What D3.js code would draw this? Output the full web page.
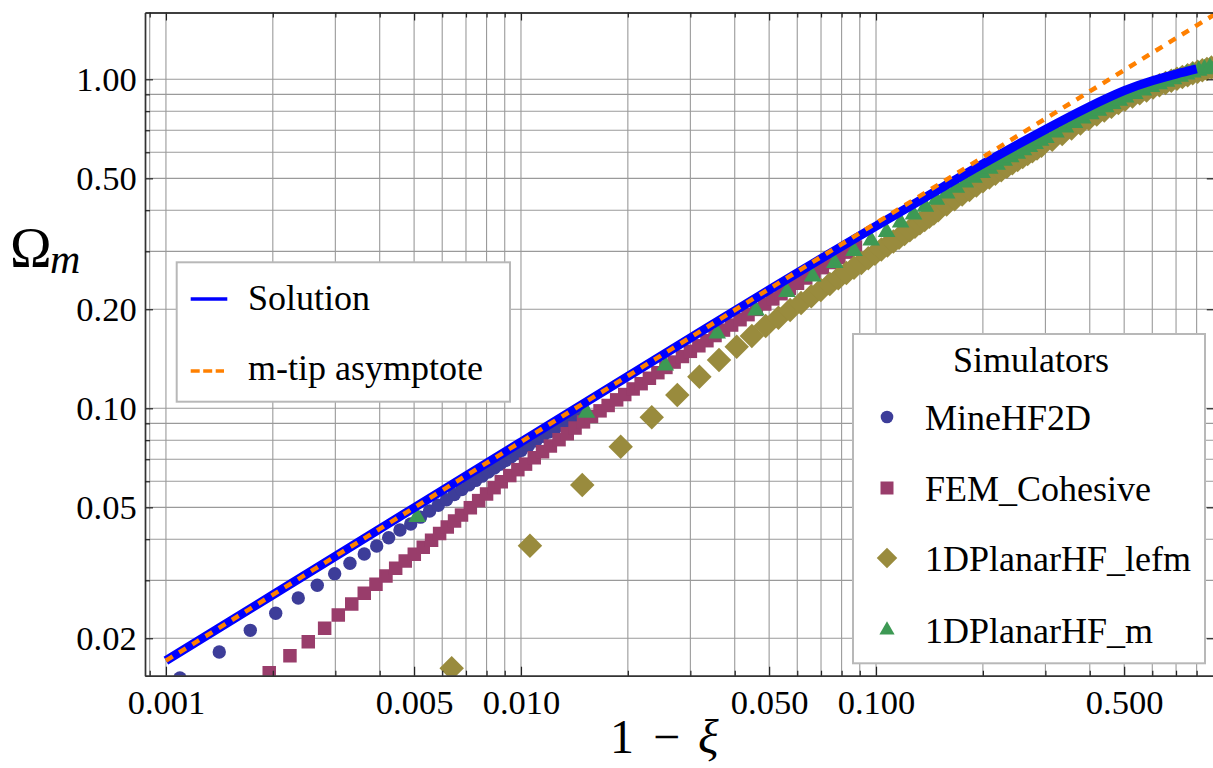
<!DOCTYPE html>
<html><head><meta charset="utf-8">
<script src="https://cdn.jsdelivr.net/npm/d3@7"></script>
<style>
html,body{margin:0;padding:0;background:#fff;}
svg text{font-family:"Liberation Serif","Times New Roman",serif;fill:#000;}
</style></head><body>
<svg id="chart" width="1213" height="768"></svg>
<script>
// ---------- data ----------
const xMajorTicks = [0.001, 0.005, 0.01, 0.05, 0.1, 0.5];
const xTickLabels = ["0.001", "0.005", "0.010", "0.050", "0.100", "0.500"];
const yMajorTicks = [0.02, 0.05, 0.1, 0.2, 0.5, 1.0];
const yTickLabels = ["0.02", "0.05", "0.10", "0.20", "0.50", "1.00"];

const solutionX = [0.001, 0.002, 0.005, 0.01, 0.02, 0.05, 0.1, 0.15, 0.2, 0.3, 0.4, 0.5, 0.6, 0.7, 0.8];
const solutionY = [0.0171, 0.02710, 0.04985, 0.0790, 0.1250, 0.2290, 0.358, 0.462, 0.553, 0.704, 0.827, 0.924, 0.990, 1.037, 1.075];

const asymptoteX = [0.001, 0.01, 0.1, 0.9];
const asymptoteY = [0.0171, 0.0791, 0.3656, 1.576];

const mineX = [0.001095, 0.001413, 0.001728, 0.002038, 0.002359, 0.002668, 0.002987, 0.003298, 0.003619, 0.003923, 0.004240, 0.004562, 0.004891, 0.00521, 0.00553, 0.00585, 0.00617, 0.00649, 0.00681, 0.00713, 0.00745, 0.00777, 0.00809, 0.00841, 0.00873, 0.00905, 0.00937, 0.00969, 0.01001, 0.0105, 0.011, 0.0115, 0.012, 0.0125, 0.013, 0.0135, 0.014, 0.0145, 0.015];
const mineY = [0.01514, 0.01816, 0.02114, 0.02383, 0.02651, 0.02897, 0.03143, 0.03381, 0.03607, 0.03815, 0.04043, 0.04267, 0.04449, 0.04668, 0.04873, 0.05075, 0.05274, 0.05467, 0.05660, 0.05850, 0.06037, 0.06220, 0.06404, 0.06584, 0.06762, 0.06936, 0.07110, 0.07279, 0.07447, 0.07702, 0.07960, 0.08214, 0.08465, 0.08707, 0.08948, 0.09186, 0.09420, 0.09652, 0.09882];

const femX = [0.001954, 0.002235, 0.002517, 0.002799, 0.003058, 0.003337, 0.003619, 0.003905, 0.004166, 0.004437, 0.004721, 0.005006, 0.005306, 0.0056, 0.0059, 0.0062, 0.0065, 0.0068, 0.0072, 0.0076, 0.0080, 0.0084, 0.0088, 0.0093, 0.0098, 0.0103, 0.0109, 0.0115, 0.0121, 0.0128, 0.0135, 0.0142, 0.015, 0.0158, 0.0167, 0.0176, 0.0186, 0.0196, 0.0207, 0.0218, 0.023, 0.0243, 0.0256, 0.027, 0.0285, 0.03, 0.0317, 0.0334, 0.0352, 0.0372, 0.0392, 0.0414, 0.0436, 0.046, 0.0486, 0.0512, 0.054, 0.057, 0.0601, 0.0634, 0.0669, 0.0706, 0.0745, 0.0786, 0.0829, 0.0875];
const femY = [0.01572, 0.01770, 0.01953, 0.02145, 0.02353, 0.02542, 0.02740, 0.02917, 0.03093, 0.03263, 0.03435, 0.03599, 0.03779, 0.03973, 0.04164, 0.04356, 0.04546, 0.04736, 0.04988, 0.05241, 0.05490, 0.05738, 0.05980, 0.06245, 0.06508, 0.06766, 0.07074, 0.07380, 0.07681, 0.08028, 0.08371, 0.08710, 0.09094, 0.09452, 0.09824, 0.1020, 0.1061, 0.1101, 0.1145, 0.1188, 0.1234, 0.1283, 0.1331, 0.1382, 0.1437, 0.1490, 0.1549, 0.1605, 0.1664, 0.1729, 0.1791, 0.1859, 0.1926, 0.1998, 0.2075, 0.2150, 0.2230, 0.2315, 0.2399, 0.2489, 0.2580, 0.2676, 0.2774, 0.2877, 0.2983, 0.3094];

const lefmX = [0.00638, 0.0106, 0.01488, 0.01909, 0.02335, 0.02756, 0.0318, 0.03612, 0.04052, 0.0447, 0.0489, 0.0531, 0.0573, 0.0615, 0.0657, 0.0699, 0.0741, 0.0783, 0.0825, 0.0867, 0.0909, 0.0951, 0.0993, 0.1035, 0.1077, 0.1119, 0.1161, 0.1203, 0.1245, 0.1287, 0.1329, 0.1371, 0.1413, 0.1455, 0.1497, 0.1581, 0.1665, 0.1749, 0.1833, 0.1917, 0.2001, 0.2085, 0.2169, 0.2253, 0.2337, 0.2421, 0.2505, 0.2589, 0.2673, 0.2757, 0.2841, 0.2925, 0.3135, 0.3345, 0.3555, 0.3765, 0.3975, 0.4185, 0.4395, 0.4605, 0.4815, 0.5025, 0.5277, 0.5529, 0.5781, 0.6033, 0.6285, 0.6537, 0.6789, 0.7041, 0.7293, 0.7545, 0.7797, 0.8049, 0.8301, 0.8553, 0.8805, 0.9057];
const lefmY = [0.01621, 0.03824, 0.05846, 0.07642, 0.09389, 0.1098, 0.1247, 0.1402, 0.1539, 0.1660, 0.1778, 0.1886, 0.1990, 0.2091, 0.2191, 0.2290, 0.2386, 0.2483, 0.2577, 0.2672, 0.2765, 0.2856, 0.2948, 0.3038, 0.3126, 0.3213, 0.3300, 0.3386, 0.3475, 0.3562, 0.3649, 0.3738, 0.3824, 0.3912, 0.3999, 0.4166, 0.4317, 0.4464, 0.4608, 0.4752, 0.4895, 0.5029, 0.5162, 0.5295, 0.5426, 0.5557, 0.5686, 0.5807, 0.5926, 0.6043, 0.6160, 0.6277, 0.6554, 0.6824, 0.7088, 0.7342, 0.7592, 0.7818, 0.8038, 0.8254, 0.8467, 0.8673, 0.8870, 0.9062, 0.9251, 0.9435, 0.9592, 0.9746, 0.9893, 1.0035, 1.0166, 1.0296, 1.0424, 1.0547, 1.0649, 1.0751, 1.0853, 1.0943];

const mX = [0.0051, 0.0153, 0.0255, 0.0357, 0.0459, 0.0561, 0.0663, 0.0765, 0.0867, 0.0969, 0.1071, 0.1173, 0.1275, 0.1377, 0.1479, 0.1581, 0.1683, 0.1785, 0.1887, 0.1989, 0.2091, 0.2193, 0.2295, 0.2397, 0.2499, 0.2601, 0.2703, 0.2805, 0.2907, 0.3009, 0.3213, 0.3417, 0.3621, 0.3825, 0.4029, 0.4233, 0.4437, 0.4641, 0.4845, 0.5049, 0.5355, 0.5661, 0.5967, 0.6273, 0.6579, 0.6885, 0.7191, 0.7497, 0.7803, 0.8109, 0.8415, 0.8721, 0.9027];
const mY = [0.0468, 0.0970, 0.1350, 0.1690, 0.1985, 0.2258, 0.2516, 0.2767, 0.3007, 0.3236, 0.3436, 0.3674, 0.3886, 0.4099, 0.4306, 0.4503, 0.4684, 0.4858, 0.5028, 0.5195, 0.5352, 0.5505, 0.5655, 0.5802, 0.5948, 0.6091, 0.6230, 0.6368, 0.6505, 0.6641, 0.6891, 0.7136, 0.7374, 0.7608, 0.7834, 0.8035, 0.8231, 0.8425, 0.8612, 0.8806, 0.9035, 0.9259, 0.9478, 0.9658, 0.9839, 1.0017, 1.0185, 1.0343, 1.0501, 1.0622, 1.0740, 1.0840, 1.0938];

const lineNames = ["Solution", "m-tip asymptote"];
const simNames = ["MineHF2D", "FEM_Cohesive", "1DPlanarHF_lefm", "1DPlanarHF_m"];
const simColors = ["#3d3d99", "#993d6b", "#998b3d", "#3d9954"];

// ---------- layout ----------
const W = 1213, H = 768;
const L = 145, R = 1214.8, T = 12.5, B = 675.7;
const x = d3.scaleLog().domain([0.000873, 0.9]).range([L, R]);
const y = d3.scaleLog().domain([0.01539, 1.596]).range([B, T]);

const svg = d3.select("#chart");
svg.append("rect").attr("width", W).attr("height", H).attr("fill", "#fff");

svg.append("defs").append("clipPath").attr("id", "plotclip")
  .append("rect").attr("x", L).attr("y", T).attr("width", R - L).attr("height", B - T);

// grid
const grid = svg.append("g").attr("stroke", "#9a9a9a").attr("stroke-width", 1.1);
grid.selectAll("line.gx").data(x.ticks()).join("line").attr("class", "gx")
  .attr("x1", d => x(d)).attr("x2", d => x(d)).attr("y1", T).attr("y2", B);
grid.selectAll("line.gy").data(y.ticks()).join("line").attr("class", "gy")
  .attr("x1", L).attr("x2", R).attr("y1", d => y(d)).attr("y2", d => y(d));

// data
const plot = svg.append("g").attr("clip-path", "url(#plotclip)");
const sym = (type, size) => d3.symbol().type(type).size(size)();
const tr = d => `translate(${x(d[0])},${y(d[1])})`;

plot.append("g").selectAll("path").data(d3.zip(mineX, mineY)).join("path")
  .attr("d", sym(d3.symbolCircle, 141)).attr("transform", tr).attr("fill", simColors[0]);
plot.append("g").selectAll("path").data(d3.zip(femX, femY)).join("path")
  .attr("d", sym(d3.symbolSquare, 182)).attr("transform", tr).attr("fill", simColors[1]);
plot.append("g").selectAll("path").data(d3.zip(lefmX, lefmY)).join("path")
  .attr("d", sym(d3.symbolSquare, 300)).attr("transform", d => tr(d) + " rotate(45)").attr("fill", simColors[2]);
plot.append("g").selectAll("path").data(d3.zip(mX, mY)).join("path")
  .attr("d", sym(d3.symbolTriangle, 135)).attr("transform", tr).attr("fill", simColors[3]);

const line = d3.line().x(d => x(d[0])).y(d => y(d[1])).curve(d3.curveNatural);
plot.append("path").datum(d3.zip(solutionX, solutionY)).attr("d", line)
  .attr("fill", "none").attr("stroke", "#0000ff").attr("stroke-width", 9);
plot.append("path").datum(d3.zip(asymptoteX, asymptoteY)).attr("d", d3.line().x(d => x(d[0])).y(d => y(d[1])))
  .attr("fill", "none").attr("stroke", "#ff8000").attr("stroke-width", 4.5).attr("stroke-dasharray", "8,7.5");

// axes
const xMinor = x.ticks().filter(v => !xMajorTicks.some(m => Math.abs(m - v) / m < 1e-6));
const yMinor = y.ticks().filter(v => !yMajorTicks.some(m => Math.abs(m - v) / m < 1e-6));
const fontAttrs = g => g.attr("font-family", "Liberation Serif, Times New Roman, serif").attr("color", "#222");

svg.append("g").attr("transform", `translate(0,${B})`)
  .call(d3.axisBottom(x).tickValues(xMajorTicks).tickFormat((d, i) => xTickLabels[i]).tickSizeInner(-9).tickSizeOuter(0).tickPadding(14))
  .call(fontAttrs).attr("font-size", 34.5);
svg.append("g").attr("transform", `translate(0,${B})`)
  .call(d3.axisBottom(x).tickValues(xMinor).tickFormat("").tickSizeInner(-5).tickSizeOuter(0)).call(fontAttrs);
svg.append("g").attr("transform", `translate(0,${T})`)
  .call(d3.axisTop(x).tickValues(xMajorTicks).tickFormat("").tickSizeInner(-8).tickSizeOuter(0)).call(fontAttrs);
svg.append("g").attr("transform", `translate(0,${T})`)
  .call(d3.axisTop(x).tickValues(xMinor).tickFormat("").tickSizeInner(-5).tickSizeOuter(0)).call(fontAttrs);
svg.append("g").attr("transform", `translate(${L},0)`)
  .call(d3.axisLeft(y).tickValues(yMajorTicks).tickFormat((d, i) => yTickLabels[i]).tickSizeInner(-8).tickSizeOuter(0).tickPadding(8.3))
  .call(fontAttrs).attr("font-size", 34.5);
svg.append("g").attr("transform", `translate(${L},0)`)
  .call(d3.axisLeft(y).tickValues(yMinor).tickFormat("").tickSizeInner(-5).tickSizeOuter(0)).call(fontAttrs);
svg.append("g").attr("transform", `translate(${R},0)`)
  .call(d3.axisRight(y).tickValues(yMajorTicks).tickFormat("").tickSizeInner(-8).tickSizeOuter(0)).call(fontAttrs);
svg.selectAll(".domain").attr("stroke", "#333").attr("stroke-width", 1.4);
svg.selectAll(".tick line").attr("stroke-width", 1.2);

// axis titles
const xt = svg.append("g").attr("font-size", 48);
xt.append("text").attr("x", 610).attr("y", 753).text("1");
xt.append("text").attr("x", 653).attr("y", 753).text("\u2212");
xt.append("text").attr("x", 698).attr("y", 753).attr("font-style", "italic").text("\u03BE");
svg.append("text").attr("x", 10).attr("y", 267).attr("font-size", 56).text("\u03A9");
svg.append("text").attr("x", 50).attr("y", 273).attr("font-size", 42).attr("font-style", "italic").text("m");

// legend 1
const lg1 = svg.append("g");
lg1.append("rect").attr("x", 176.7).attr("y", 262.3).attr("width", 333.3).attr("height", 139.4)
  .attr("fill", "#fff").attr("stroke", "#b8b8b8").attr("stroke-width", 2);
lg1.append("line").attr("x1", 190.7).attr("x2", 227.3).attr("y1", 299).attr("y2", 299)
  .attr("stroke", "#0000ff").attr("stroke-width", 3.5);
lg1.append("line").attr("x1", 190.7).attr("x2", 224).attr("y1", 371).attr("y2", 371)
  .attr("stroke", "#ff8000").attr("stroke-width", 3.5).attr("stroke-dasharray", "9,3.5");
lg1.selectAll("text").data(lineNames).join("text")
  .attr("x", 248).attr("y", (d, i) => [310, 380][i]).attr("font-size", 36).text(d => d);

// legend 2
const lg2 = svg.append("g");
lg2.append("rect").attr("x", 853).attr("y", 334).attr("width", 352).attr("height", 329.3)
  .attr("fill", "#fff").attr("stroke", "#b8b8b8").attr("stroke-width", 2);
lg2.append("text").attr("x", 1031).attr("y", 371.7).attr("text-anchor", "middle").attr("font-size", 36).text("Simulators");
const rowY = [417, 488, 558, 630];
const legSyms = [
  [d3.symbolCircle, 125, 0], [d3.symbolSquare, 169, 0], [d3.symbolSquare, 210, 45], [d3.symbolTriangle, 100, 0]
];
lg2.selectAll("path").data(simNames).join("path")
  .attr("d", (d, i) => sym(legSyms[i][0], legSyms[i][1]))
  .attr("transform", (d, i) => `translate(887,${rowY[i]}) rotate(${legSyms[i][2]})`)
  .attr("fill", (d, i) => simColors[i]);
lg2.selectAll("text.nm").data(simNames).join("text").attr("class", "nm")
  .attr("x", 925).attr("y", (d, i) => rowY[i] + 13).attr("font-size", 36).text(d => d);
</script>
</body></html>
